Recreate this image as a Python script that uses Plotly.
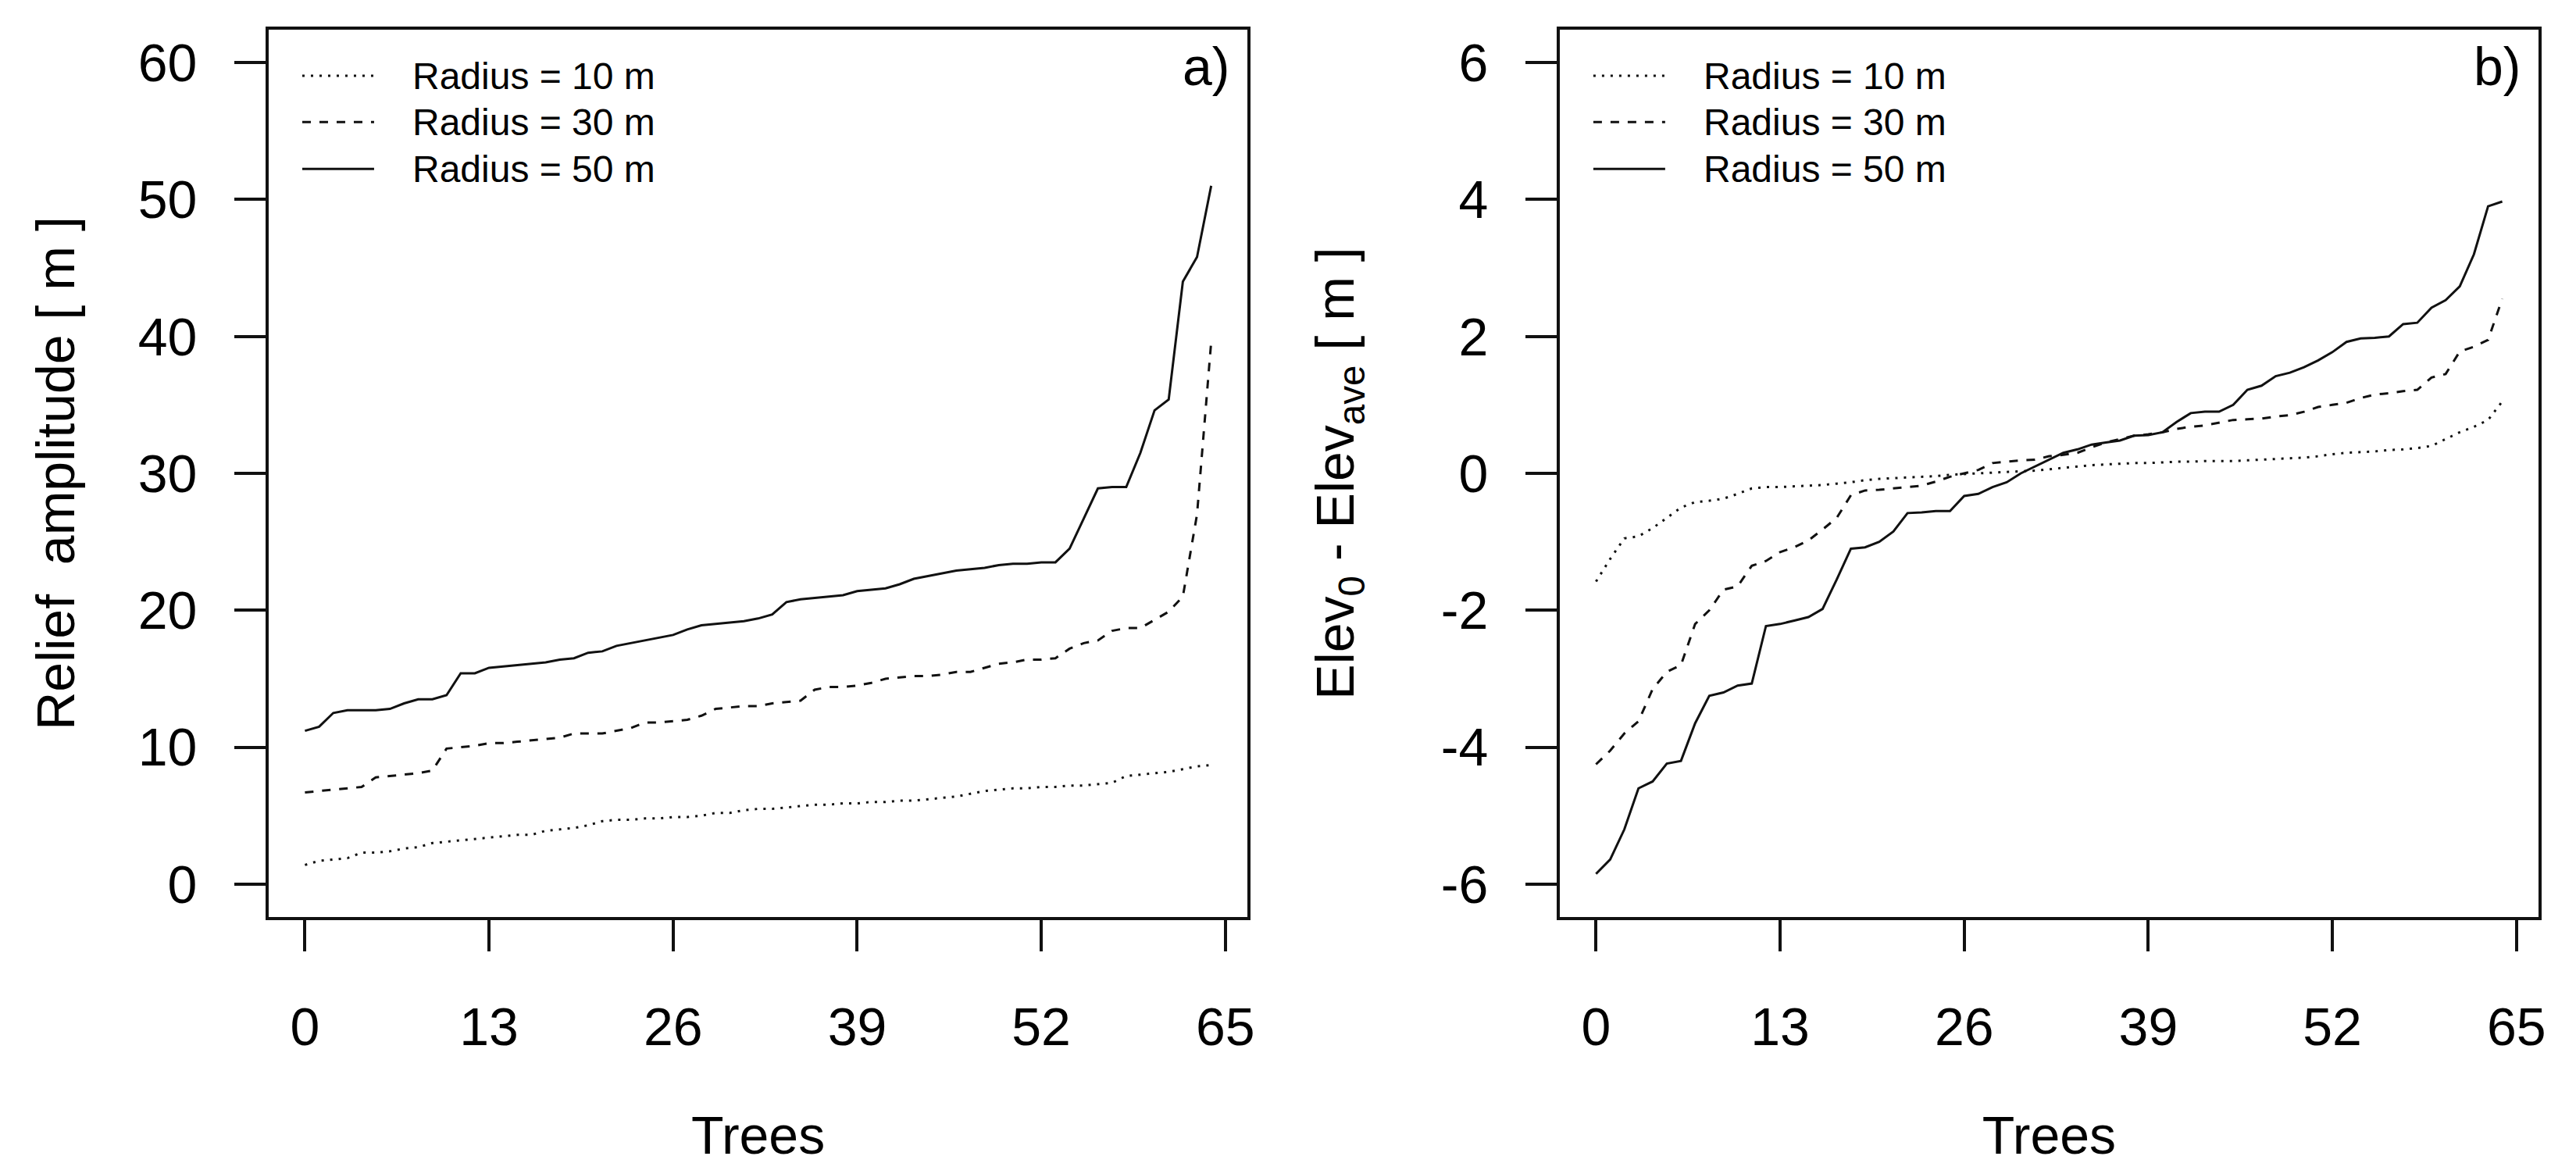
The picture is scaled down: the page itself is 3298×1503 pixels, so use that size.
import plotly.graph_objects as go

trees = list(range(65))

# panel a) relief amplitude [m], sorted per radius
relief_10 = [1.4, 1.7, 1.8, 1.9, 2.3, 2.3, 2.4, 2.6, 2.7, 3.0, 3.1, 3.2, 3.3, 3.4, 3.5, 3.6, 3.6,
             3.9, 4.0, 4.1, 4.3, 4.6, 4.7, 4.7, 4.8, 4.8, 4.9, 4.9, 5.0, 5.2, 5.2, 5.4, 5.5, 5.5,
             5.6, 5.7, 5.8, 5.8, 5.9, 5.9, 6.0, 6.0, 6.1, 6.1, 6.2, 6.3, 6.4, 6.6, 6.8, 6.9, 7.0,
             7.0, 7.1, 7.1, 7.2, 7.2, 7.3, 7.4, 7.9, 8.0, 8.1, 8.2, 8.4, 8.6, 8.7]
relief_30 = [6.7, 6.8, 6.9, 7.0, 7.1, 7.8, 7.9, 8.0, 8.1, 8.3, 9.9, 10.0, 10.1, 10.3, 10.3, 10.4,
             10.5, 10.6, 10.7, 11.0, 11.0, 11.0, 11.2, 11.4, 11.8, 11.8, 11.9, 12.0, 12.3, 12.8,
             12.9, 13.0, 13.0, 13.2, 13.3, 13.4, 14.2, 14.4, 14.4, 14.5, 14.7, 15.0, 15.1, 15.2,
             15.2, 15.3, 15.5, 15.5, 15.8, 16.1, 16.2, 16.4, 16.4, 16.5, 17.2, 17.6, 17.8, 18.5,
             18.7, 18.7, 19.3, 19.9, 21.0, 27.0, 39.6]
relief_50 = [11.2, 11.5, 12.5, 12.7, 12.7, 12.7, 12.8, 13.2, 13.5, 13.5, 13.8, 15.4, 15.4, 15.8,
             15.9, 16.0, 16.1, 16.2, 16.4, 16.5, 16.9, 17.0, 17.4, 17.6, 17.8, 18.0, 18.2, 18.6,
             18.9, 19.0, 19.1, 19.2, 19.4, 19.7, 20.6, 20.8, 20.9, 21.0, 21.1, 21.4, 21.5, 21.6,
             21.9, 22.3, 22.5, 22.7, 22.9, 23.0, 23.1, 23.3, 23.4, 23.4, 23.5, 23.5, 24.5, 26.7,
             28.9, 29.0, 29.0, 31.5, 34.6, 35.4, 44.0, 45.8, 51.0]

# panel b) Elev0 - Elevave [m]
diff_10 = [-1.58, -1.25, -0.95, -0.92, -0.8, -0.65, -0.5, -0.42, -0.4, -0.37, -0.3, -0.22, -0.2,
           -0.2, -0.19, -0.18, -0.17, -0.15, -0.13, -0.1, -0.08, -0.07, -0.06, -0.05, -0.04,
           -0.02, -0.01, 0.0, 0.01, 0.02, 0.03, 0.04, 0.06, 0.08, 0.1, 0.12, 0.13, 0.14, 0.15,
           0.15, 0.16, 0.17, 0.17, 0.18, 0.18, 0.18, 0.19, 0.2, 0.21, 0.22, 0.23, 0.25, 0.28,
           0.3, 0.31, 0.32, 0.34, 0.35, 0.37, 0.4, 0.5, 0.6, 0.68, 0.78, 1.05]
diff_30 = [-4.25, -4.05, -3.8, -3.62, -3.15, -2.9, -2.8, -2.2, -2.0, -1.7, -1.65, -1.35, -1.28,
           -1.15, -1.08, -0.98, -0.82, -0.65, -0.32, -0.25, -0.24, -0.22, -0.2, -0.18, -0.12,
           -0.05, 0.0, 0.05, 0.15, 0.17, 0.19, 0.2, 0.25, 0.27, 0.3, 0.38, 0.45, 0.5, 0.55,
           0.57, 0.6, 0.65, 0.68, 0.7, 0.74, 0.78, 0.79, 0.8, 0.83, 0.85, 0.9, 0.97, 1.0, 1.03,
           1.1, 1.15, 1.17, 1.2, 1.22, 1.4, 1.45, 1.78, 1.85, 1.95, 2.55]
diff_50 = [-5.85, -5.64, -5.2, -4.6, -4.5, -4.24, -4.2, -3.65, -3.25, -3.2, -3.1, -3.07, -2.23,
           -2.2, -2.15, -2.1, -1.98, -1.55, -1.1, -1.08, -1.0, -0.85, -0.58, -0.57, -0.55, -0.55,
           -0.33, -0.3, -0.2, -0.13, 0.0, 0.1, 0.2, 0.3, 0.35, 0.42, 0.45, 0.48, 0.55, 0.56, 0.6,
           0.75, 0.88, 0.9, 0.9, 1.0, 1.22, 1.28, 1.42, 1.47, 1.55, 1.65, 1.77, 1.92, 1.97, 1.98,
           2.0, 2.18, 2.2, 2.42, 2.53, 2.73, 3.2, 3.9, 3.97]

legend_labels = ['Radius = 10 m', 'Radius = 30 m', 'Radius = 50 m']
dashes = ['3px,8px', '11px,11px', 'solid']
x_ticks = [0, 13, 26, 39, 52, 65]
relief_ticks = [0, 10, 20, 30, 40, 50, 60]
diff_ticks = [-6, -4, -2, 0, 2, 4, 6]
diff_ticktext = ['-6', '-4', '-2', '0', '2', '4', '6']  # plain hyphen like the R original

FONT = 'Liberation Sans, Arial, sans-serif'
INK = '#111111'

fig = go.Figure()
for ys, dash in zip([relief_10, relief_30, relief_50], dashes):
    fig.add_trace(go.Scatter(x=trees, y=ys, mode='lines', xaxis='x', yaxis='y',
                             line={'color': INK, 'width': 3, 'dash': dash}, showlegend=False))
for ys, dash in zip([diff_10, diff_30, diff_50], dashes):
    fig.add_trace(go.Scatter(x=trees, y=ys, mode='lines', xaxis='x2', yaxis='y2',
                             line={'color': INK, 'width': 3, 'dash': dash}, showlegend=False))

title_font = dict(family=FONT, size=68, color='black')
axis_common = dict(showline=True, mirror=True, linecolor=INK, linewidth=4,
                   ticks='outside', ticklen=40, tickwidth=4, tickcolor=INK,
                   showgrid=False, zeroline=False,
                   tickfont=dict(family=FONT, size=68, color='black'))

fig.update_layout(
    width=3298, height=1503,
    margin=dict(l=336, r=56, t=30, b=337),
    plot_bgcolor='white', paper_bgcolor='white',
    xaxis=dict(domain=[0, 0.4312], range=[-2.56, 66.56], tickvals=x_ticks,
               ticklabelstandoff=38, anchor='y',
               title=dict(text='Trees', font=title_font, standoff=80), **axis_common),
    yaxis=dict(domain=[0, 1], range=[-2.4, 62.4], tickvals=relief_ticks,
               ticklabelstandoff=34, anchor='x',
               title=dict(text='Relief  amplitude [ m ]', font=title_font, standoff=60),
               **axis_common),
    xaxis2=dict(domain=[0.5688, 1], range=[-2.56, 66.56], tickvals=x_ticks,
                ticklabelstandoff=38, anchor='y2',
                title=dict(text='Trees', font=title_font, standoff=80), **axis_common),
    yaxis2=dict(domain=[0, 1], range=[-6.48, 6.48], tickvals=diff_ticks, ticktext=diff_ticktext,
                ticklabelstandoff=34, anchor='x2',
                title=dict(text='Elev<sub>0</sub> - Elev<sub>ave</sub> [ m ]', font=title_font,
                           standoff=90),
                **axis_common),
    showlegend=False,
)

# hand-drawn legends in the top left of each panel (R style, no box)
legend_rows = [0.948, 0.896, 0.843]
for xr, yr in [('x domain', 'y domain'), ('x2 domain', 'y2 domain')]:
    for label, dash, yrow in zip(legend_labels, dashes, legend_rows):
        fig.add_shape(type='line', xref=xr, yref=yr, x0=0.0343, x1=0.1077, y0=yrow, y1=yrow,
                      line=dict(color=INK, width=3, dash=dash))
        fig.add_annotation(xref=xr, yref=yr, x=0.1453, y=yrow, text=label, showarrow=False,
                           xanchor='left', yanchor='middle',
                           font=dict(family=FONT, size=48, color='black'))

# panel letters
fig.add_annotation(xref='x domain', yref='y domain', x=0.983, y=0.9586, text='a)',
                   showarrow=False, xanchor='right', yanchor='middle',
                   font=dict(family=FONT, size=68, color='black'))
fig.add_annotation(xref='x2 domain', yref='y2 domain', x=0.983, y=0.9586, text='b)',
                   showarrow=False, xanchor='right', yanchor='middle',
                   font=dict(family=FONT, size=68, color='black'))

fig.write_html("out.html")
